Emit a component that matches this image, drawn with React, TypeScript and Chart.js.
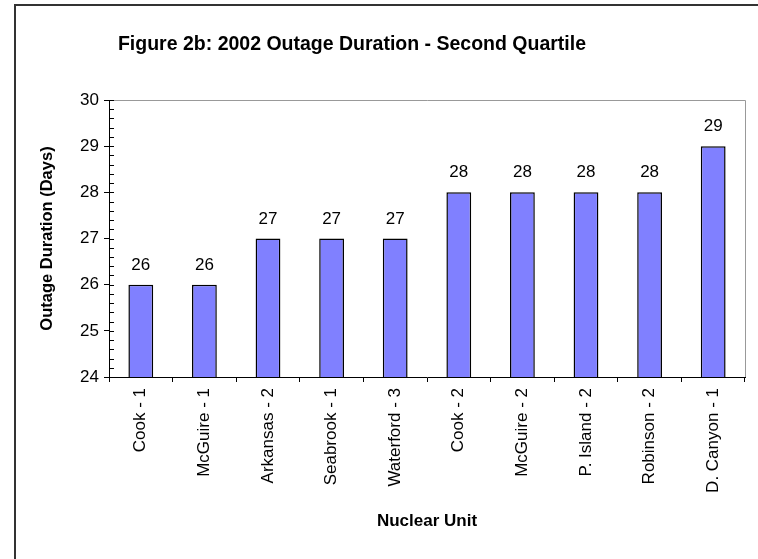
import React, { useEffect, useRef } from "react";
import { Chart, registerables } from "chart.js";

Chart.register(...registerables);

const TITLE = "Figure 2b: 2002 Outage Duration - Second Quartile";
const units = [
  "Cook - 1",
  "McGuire - 1",
  "Arkansas - 2",
  "Seabrook - 1",
  "Waterford - 3",
  "Cook - 2",
  "McGuire - 2",
  "P. Island - 2",
  "Robinson - 2",
  "D. Canyon - 1",
];
const durations = [26, 26, 27, 27, 27, 28, 28, 28, 28, 29];
const yMin = 24;
const yMax = 30;
const minorStep = 0.2;

const FONT = "'Liberation Sans', Arial, sans-serif";

const decorPlugin = {
  id: "decor",
  beforeDraw(chart: any) {
    const ctx = chart.ctx;
    ctx.save();
    ctx.fillStyle = "#ffffff";
    ctx.fillRect(0, 0, chart.width, chart.height);
    ctx.strokeStyle = "#333333";
    ctx.lineWidth = 2;
    ctx.beginPath();
    ctx.moveTo(15, chart.height);
    ctx.lineTo(15, 5);
    ctx.lineTo(chart.width, 5);
    ctx.stroke();
    // title
    ctx.fillStyle = "#000000";
    ctx.font = `bold 19.5px ${FONT}`;
    ctx.textAlign = "center";
    ctx.textBaseline = "middle";
    ctx.fillText(TITLE, 352, 45);
    ctx.restore();
  },
  afterDraw(chart: any) {
    const ctx = chart.ctx;
    const { left, right, top, bottom } = chart.chartArea;
    const y = chart.scales.y;
    ctx.save();
    ctx.strokeStyle = "#999999";
    ctx.lineWidth = 1;
    ctx.beginPath();
    ctx.moveTo(left, Math.round(top) + 0.5);
    ctx.lineTo(Math.round(right) + 0.5, Math.round(top) + 0.5);
    ctx.lineTo(Math.round(right) + 0.5, bottom);
    ctx.stroke();
    ctx.strokeStyle = "#000000";
    ctx.beginPath();
    const n = Math.round((yMax - yMin) / minorStep);
    for (let i = 0; i <= n; i++) {
      const v = yMin + i * minorStep;
      const py = Math.round(y.getPixelForValue(v)) + 0.5;
      ctx.moveTo(left, py);
      ctx.lineTo(left + 5, py);
    }
    ctx.stroke();
    const meta = chart.getDatasetMeta(0);
    ctx.fillStyle = "#000000";
    ctx.font = `17px ${FONT}`;
    ctx.textAlign = "center";
    ctx.textBaseline = "alphabetic";
    meta.data.forEach((bar: any, i: number) => {
      ctx.fillText(String(durations[i]), bar.x, bar.y - 15);
    });
    ctx.restore();
  },
};

export default function App() {
  const ref = useRef<HTMLCanvasElement | null>(null);
  useEffect(() => {
    document.body.style.margin = "0";
    document.body.style.overflow = "hidden";
    const chart = new Chart(ref.current as HTMLCanvasElement, {
      type: "bar",
      data: {
        labels: units,
        datasets: [
          {
            data: durations,
            backgroundColor: "#8080FF",
            borderColor: "#000000",
            borderWidth: 1.5,
            barPercentage: 0.39,
            categoryPercentage: 1,
          },
        ],
      },
      plugins: [decorPlugin],
      options: {
        animation: false,
        responsive: false,
        devicePixelRatio: 1,
        layout: { padding: { left: 0, right: 13, top: 100, bottom: 0 } },
        plugins: {
          legend: { display: false },
          tooltip: { enabled: false },
          title: { display: false },
        },
        scales: {
          x: {
            afterFit(scale: any) {
              scale.height = 182;
            },
            grid: {
              display: true,
              drawOnChartArea: false,
              drawTicks: true,
              tickLength: 5,
              color: "#000000",
              offset: true,
            },
            border: { display: true, color: "#000000", width: 1 },
            ticks: {
              color: "#000000",
              font: { family: FONT, size: 17 },
              maxRotation: 90,
              minRotation: 90,
              padding: 6,
              autoSkip: false,
            },
            title: {
              display: true,
              text: "Nuclear Unit",
              color: "#000000",
              font: { family: FONT, size: 17, weight: "bold" },
              padding: { top: 0, bottom: 27 },
            },
          },
          y: {
            min: yMin,
            max: yMax,
            afterFit(scale: any) {
              scale.width = 109;
            },
            grid: {
              display: true,
              drawOnChartArea: false,
              drawTicks: true,
              tickLength: 5,
              color: "#000000",
            },
            border: { display: true, color: "#000000", width: 1 },
            ticks: {
              stepSize: 1,
              color: "#000000",
              font: { family: FONT, size: 17 },
              padding: 5,
            },
            title: {
              display: true,
              text: "Outage Duration (Days)",
              color: "#000000",
              font: { family: FONT, size: 16.5, weight: "bold" },
              padding: { top: 38, bottom: 0 },
            },
          },
        },
      },
    });
    return () => chart.destroy();
  }, []);
  return (
    <div style={{ position: "absolute", left: 0, top: 0, width: 758, height: 559 }}>
      <canvas ref={ref} width={758} height={559} style={{ width: 758, height: 559, display: "block" }} />
    </div>
  );
}
